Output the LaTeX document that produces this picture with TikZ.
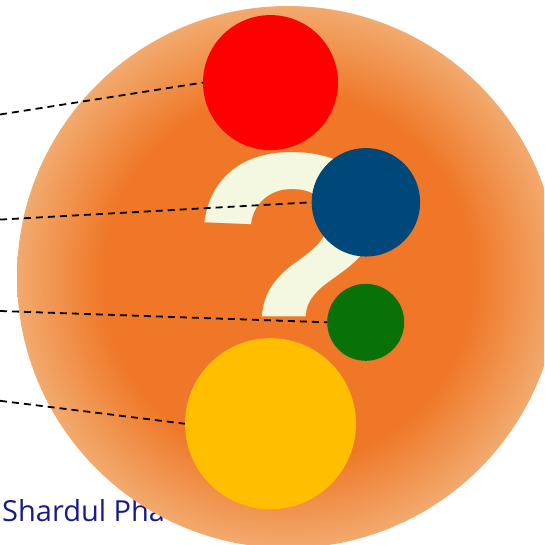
\documentclass[tikz,border=0pt]{standalone}
\usepackage{fontspec}
\setmainfont{Open Sans}
\newfontfamily\qfont{Liberation Sans}
\definecolor{ocore}{RGB}{239,119,39}
\definecolor{oedge}{RGB}{242,170,110}
\definecolor{cream}{RGB}{245,248,224}
\definecolor{dblue}{RGB}{0,72,121}
\definecolor{dgreen}{RGB}{8,114,8}
\definecolor{gold}{RGB}{255,191,0}
\definecolor{navy}{RGB}{26,26,138}
\pgfdeclareradialshading{orangeball}{\pgfpoint{0bp}{0bp}}{%
  color(0bp)=(ocore); color(17bp)=(ocore); color(25bp)=(oedge); color(50bp)=(oedge)}

\begin{document}
\begin{tikzpicture}[x=1pt, y=-1pt,
    dot/.style={circle, inner sep=0pt, draw=none},
    link/.style={black, line width=1.8pt, dash pattern=on 7pt off 5pt}]
  \clip (0,0) rectangle (544,545);

  % name under the big circle
  \node[anchor=base west, inner sep=0pt, text=navy, font=\fontsize{29}{29}\selectfont] (name) at (2,521) {Shardul Pha};

  \shade[shading=orangeball] (288,277) circle (271pt);

  % question mark, its dot hidden
  \begin{scope}
    \clip (150,140) rectangle (420,316);
    \node[anchor=base, inner sep=0pt, text=cream, font=\qfont\bfseries\fontsize{335}{335}\selectfont] (qm) at (292,386.6) {?};
  \end{scope}

  \coordinate (s1) at (0,114.5);
  \coordinate (s2) at (0,219.6);
  \coordinate (s3) at (0,311);
  \coordinate (s4) at (0,400.8);

  \node[dot, fill=red,    minimum size=135pt] (red)    at (270.5,82.6)  {};
  \node[dot, fill=dblue,  minimum size=108.5pt] (blue) at (365.9,202.3) {};
  \node[dot, fill=dgreen, minimum size=77pt]  (green)  at (365.7,322.3) {};
  \node[dot, fill=gold,   minimum size=171pt] (yellow) at (270.5,423.7) {};

  \draw[link] (s1) -- (red.west);
  \draw[link] (s2) -- (blue.west);
  \draw[link] (s3) -- (green.west);
  \draw[link] (s4) -- (yellow.west);
\end{tikzpicture}
\end{document}
